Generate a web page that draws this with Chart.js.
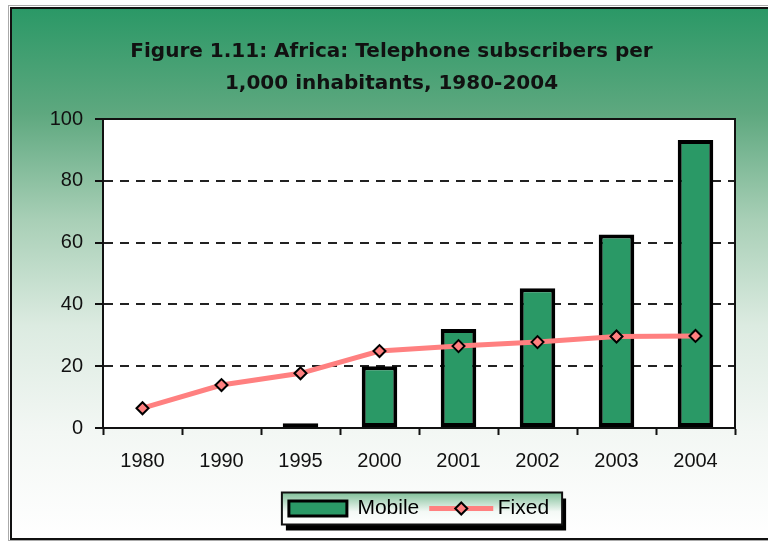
<!DOCTYPE html>
<html>
<head>
<meta charset="utf-8">
<script src="https://cdn.jsdelivr.net/npm/chart.js@4.4.1/dist/chart.umd.min.js"></script>
<style>
  html, body { margin: 0; padding: 0; background: #fff; }
  #wrap { width: 768px; height: 541px; }
</style>
</head>
<body>
<div id="wrap"><canvas id="phoneChart" width="768" height="541"></canvas></div>
<script>
const years = ['1980', '1990', '1995', '2000', '2001', '2002', '2003', '2004'];
const mobileSubs = [null, null, 1.5, 20, 32, 45.2, 62.6, 93.2];
const fixedSubs = [6.4, 13.9, 17.7, 24.9, 26.5, 27.8, 29.6, 29.8];
const titleLines = ['Figure 1.11: Africa: Telephone subscribers per', '1,000 inhabitants, 1980-2004'];

const GREEN = '#2a9966';
const SALMON = '#ff8080';
const INK = '#111';
const tickFont = { family: '"Liberation Sans", Arial, sans-serif', size: 20 };

// background, outer frame, white plot area and the boxed legend
const backdrop = {
    id: 'backdrop',
    beforeDraw(chart) {
        const ctx = chart.ctx;
        const { left, top, right, bottom } = chart.chartArea;
        ctx.save();
        ctx.fillStyle = '#fff';
        ctx.fillRect(0, 0, chart.width, chart.height);

        const g = ctx.createLinearGradient(0, 7, 0, 539);
        g.addColorStop(0, '#2a9866');
        g.addColorStop(0.2, '#5ea87f');
        g.addColorStop(0.4, '#a8cfb6');
        g.addColorStop(0.6, '#dcebe1');
        g.addColorStop(0.8, '#f3f7f4');
        g.addColorStop(1, '#ffffff');
        ctx.fillStyle = g;
        ctx.fillRect(10, 7, chart.width, 532);

        ctx.strokeStyle = '#aaa';
        ctx.lineWidth = 1;
        ctx.strokeRect(8.5, 5.5, chart.width, 535);
        ctx.strokeStyle = INK;
        ctx.lineWidth = 2;
        ctx.strokeRect(11, 8, chart.width, 531);

        ctx.fillStyle = '#fff';
        ctx.fillRect(left, top, right - left, bottom - top);

        // legend frame with drop shadow
        const hb = chart.legend.legendHitBoxes;
        if (hb && hb.length) {
            const last = hb[hb.length - 1];
            const x0 = hb[0].left - 7;
            const x1 = last.left + last.width + 13;
            const cy = hb[0].top + hb[0].height / 2;
            const y0 = cy - 16, h = 32, w = x1 - x0;
            ctx.fillStyle = '#000';
            ctx.fillRect(x0 + 4, y0 + 6, w, h);
            const lg = ctx.createLinearGradient(0, y0, 0, y0 + h);
            lg.addColorStop(0, '#7fbf98');
            lg.addColorStop(0.6, '#f4f9f6');
            lg.addColorStop(1, '#ffffff');
            ctx.fillStyle = lg;
            ctx.fillRect(x0, y0, w, h);
            ctx.strokeStyle = INK;
            ctx.lineWidth = 2;
            ctx.strokeRect(x0, y0, w, h);
        }
        ctx.restore();
    },
    beforeDatasetsDraw(chart) {
        const ctx = chart.ctx;
        const { left, top, right, bottom } = chart.chartArea;
        ctx.save();
        ctx.strokeStyle = INK;
        ctx.lineWidth = 2;
        ctx.strokeRect(left, top, right - left, bottom - top);
        ctx.restore();
    },
    afterDraw(chart) {
        // line + diamond sample for the Fixed legend entry
        const hb = chart.legend.legendHitBoxes;
        if (!hb || hb.length < 2) return;
        const b = hb[1];
        const cy = b.top + b.height / 2;
        const ctx = chart.ctx;
        ctx.save();
        ctx.strokeStyle = SALMON;
        ctx.lineWidth = 5;
        ctx.beginPath();
        ctx.moveTo(b.left, cy);
        ctx.lineTo(b.left + 64, cy);
        ctx.stroke();
        ctx.fillStyle = SALMON;
        ctx.strokeStyle = '#000';
        ctx.lineWidth = 2;
        Chart.helpers.drawPoint(ctx, {
            pointStyle: 'rectRot', radius: 6, borderWidth: 2, rotation: 0
        }, b.left + 32, cy);
        ctx.restore();
    }
};

const ctx = document.getElementById('phoneChart').getContext('2d');
const phoneChart = new Chart(ctx, {
    data: {
        labels: years,
        datasets: [
            {
                type: 'line',
                label: 'Fixed',
                data: fixedSubs,
                borderColor: SALMON,
                borderWidth: 5,
                tension: 0,
                pointStyle: 'rectRot',
                pointRadius: 6,
                pointBackgroundColor: SALMON,
                pointBorderColor: '#000',
                pointBorderWidth: 2,
                order: 0
            },
            {
                type: 'bar',
                label: 'Mobile',
                data: mobileSubs,
                backgroundColor: GREEN,
                borderColor: '#000',
                borderWidth: 4,
                borderSkipped: false,
                barPercentage: 0.45,
                categoryPercentage: 1,
                order: 1
            }
        ]
    },
    options: {
        responsive: false,
        animation: false,
        layout: { padding: { left: 48, right: 33, top: 0, bottom: 12 } },
        scales: {
            x: {
                offset: true,
                grid: {
                    offset: true,
                    drawOnChartArea: false,
                    tickLength: 7,
                    tickColor: INK,
                    tickWidth: 2
                },
                border: { color: INK, width: 2 },
                ticks: { font: tickFont, color: INK, padding: 14, maxRotation: 0, autoSkip: false },
                afterFit: (scale) => { scale.height = 60; }
            },
            y: {
                min: 0,
                max: 100,
                grid: {
                    color: (c) => (c.tick && (c.tick.value === 0 || c.tick.value === 100)) ? 'rgba(0,0,0,0)' : '#222',
                    lineWidth: 2,
                    tickLength: 8,
                    tickColor: INK,
                    tickWidth: 2
                },
                border: { color: INK, width: 2, dash: [9, 7] },
                ticks: { stepSize: 20, font: tickFont, color: INK, padding: 12 },
                afterFit: (scale) => { scale.width = 55; }
            }
        },
        plugins: {
            title: {
                display: true,
                text: titleLines,
                color: INK,
                font: { family: '"DejaVu Sans", sans-serif', size: 20, weight: 'bold', lineHeight: 1.6 },
                padding: { top: 36, bottom: 19 }
            },
            legend: {
                position: 'bottom',
                fullSize: false,
                labels: {
                    boxWidth: 58,
                    boxHeight: 15,
                    padding: 10,
                    color: INK,
                    font: { family: '"Liberation Sans", Arial, sans-serif', size: 21 },
                    generateLabels: () => [
                        { text: 'Mobile', fillStyle: GREEN, strokeStyle: '#000', lineWidth: 3, datasetIndex: 1 },
                        { text: 'Fixed', fillStyle: 'rgba(0,0,0,0)', strokeStyle: 'rgba(0,0,0,0)', lineWidth: 0, datasetIndex: 0 }
                    ]
                }
            },
            tooltip: { enabled: false }
        }
    },
    plugins: [backdrop]
});
</script>
</body>
</html>
